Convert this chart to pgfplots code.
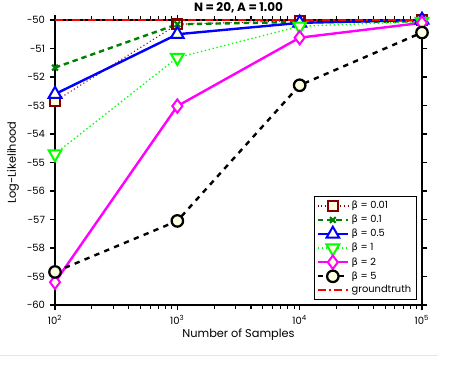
\documentclass[border=0pt]{standalone}
\usepackage{pgfplots}
\pgfplotsset{compat=1.18}
\usepackage{fontspec}
\setmainfont{Poppins}
\newfontfamily\greekfont{DejaVu Sans}
\newcommand{\bet}{{\greekfont β}}
\definecolor{cream}{RGB}{255,255,225}
\definecolor{darkred}{RGB}{128,0,0}
\definecolor{dgreen}{RGB}{0,128,0}
\definecolor{lime}{RGB}{0,255,0}
\definecolor{mag}{RGB}{255,0,255}
\definecolor{pblue}{RGB}{0,0,255}
\definecolor{pred}{RGB}{255,0,0}

\begin{document}
\begin{tikzpicture}
\path[use as bounding box] (-41.25pt,-63.75pt) rectangle (296.25pt,228.75pt);
\draw[gray!20, line width=0.6pt] (-41.25pt,-37.5pt) -- (287.25pt,-37.5pt);
\begin{axis}[
    scale only axis,
    width=275.25pt, height=213.75pt,
    xmode=log,
    xmin=100, xmax=100000,
    ymin=-60, ymax=-50,
    xtick={100,1000,10000,100000},
    xticklabels={10\textsuperscript{2},10\textsuperscript{3},10\textsuperscript{4},10\textsuperscript{5}},
    ytick={-60,-59,...,-50},
    yticklabels={−60,−59,−58,−57,−56,−55,−54,−53,−52,−51,−50},
    minor tick num=0,
    tick align=outside,
    major tick length=4pt,
    tick style={black, line width=0.8pt},
    axis line style={line width=1pt},
    every tick label/.style={font=\fontsize{7.5}{9}\selectfont},
    /pgf/number format/assume math mode=true,
    title={\bfseries N = 20, A = 1.00},
    title style={font=\fontsize{9}{10}\selectfont, yshift=-4.5pt},
    xlabel={Number of Samples},
    ylabel={Log-Likelihood},
    label style={font=\fontsize{8.5}{10}\selectfont},
    xlabel style={yshift=3.5pt},
    ylabel style={yshift=-1pt},
    clip=false,
    legend style={at={(0.984,0.018)}, anchor=south east,
        font=\fontsize{7.4}{9}\selectfont, draw=black, line width=0.4pt,
        row sep=-0.6pt, inner sep=1.5pt},
    legend cell align=left,
    legend image code/.code={
        \draw[mark repeat=2, mark phase=2, line width=1.6pt, #1]
        plot coordinates {(0cm,0cm) (0.4cm,0cm) (0.8cm,0cm)};},
]
\addplot[darkred, line width=0.8pt, dotted, mark=square*, mark size=3.6pt,
    mark options={solid, fill=cream, line width=1.6pt}]
    coordinates {(100,-52.85) (1000,-50.15) (10000,-50.02) (100000,-50.0)};
\addlegendentry{\bet{} = 0.01}
\addplot[dgreen, line width=1.8pt, dash pattern=on 4pt off 3pt, mark=x, mark size=3pt,
    mark options={solid, line width=1.6pt}]
    coordinates {(100,-51.67) (1000,-50.15) (10000,-50.07) (100000,-50.05)};
\addlegendentry{\bet{} = 0.1}
\addplot[pblue, line width=1.8pt, mark=triangle*, mark size=5.5pt,
    mark options={solid, fill=cream, line width=1.5pt}]
    coordinates {(100,-52.6) (1000,-50.5) (10000,-50.1) (100000,-50.0)};
\addlegendentry{\bet{} = 0.5}
\addplot[lime, line width=1pt, dotted, mark=triangle*, mark size=5.5pt,
    mark options={solid, fill=cream, line width=1.5pt, rotate=180}]
    coordinates {(100,-54.7) (1000,-51.32) (10000,-50.22) (100000,-50.05)};
\addlegendentry{\bet{} = 1}
\addplot[mag, line width=1.8pt, mark=diamond*, mark size=5pt,
    mark options={solid, fill=cream, line width=1.5pt}]
    coordinates {(100,-59.2) (1000,-53.02) (10000,-50.62) (100000,-50.1)};
\addlegendentry{\bet{} = 2}
\addplot[black, line width=1.8pt, dash pattern=on 4pt off 4pt, mark=*, mark size=4.3pt,
    mark options={solid, fill=cream, line width=1.7pt}]
    coordinates {(100,-58.84) (1000,-57.05) (10000,-52.29) (100000,-50.44)};
\addlegendentry{\bet{} = 5}
\addplot[pred, line width=1.8pt, dash pattern=on 6pt off 2.5pt on 1.5pt off 2.5pt]
    coordinates {(100,-50) (100000,-50)};
\addlegendentry{groundtruth}
\end{axis}
\end{tikzpicture}
\end{document}
